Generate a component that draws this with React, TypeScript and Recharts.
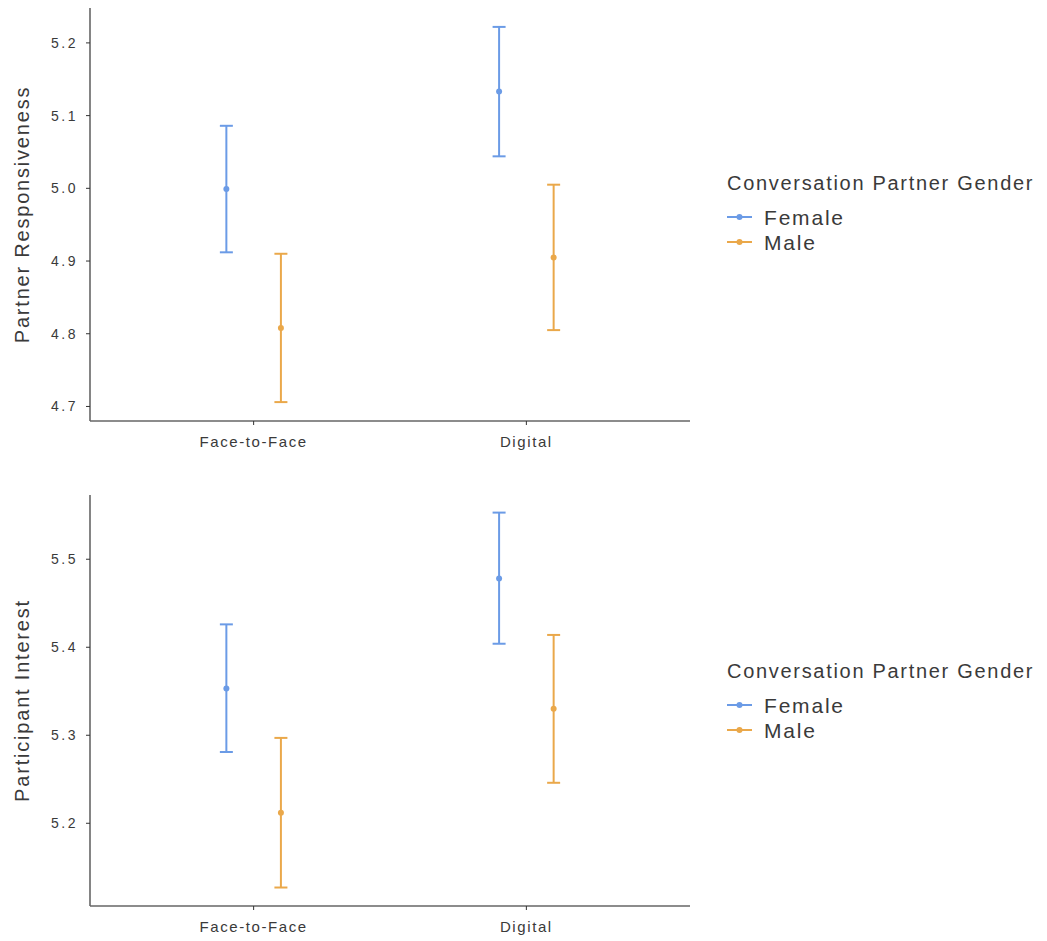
import { ErrorBar, Label, Scatter, ScatterChart, XAxis, YAxis } from 'recharts';

const categories = ['Face-to-Face', 'Digital'];
const genders = ['Female', 'Male'];

// Partner responsiveness: estimated means with lower / upper interval bounds
const respFemaleMean = [4.999, 5.133];
const respFemaleLow = [4.912, 5.044];
const respFemaleHigh = [5.086, 5.222];
const respMaleMean = [4.808, 4.905];
const respMaleLow = [4.706, 4.805];
const respMaleHigh = [4.91, 5.005];
const respTicks = [4.7, 4.8, 4.9, 5.0, 5.1, 5.2];

// Participant interest
const intFemaleMean = [5.353, 5.478];
const intFemaleLow = [5.281, 5.404];
const intFemaleHigh = [5.426, 5.553];
const intMaleMean = [5.212, 5.33];
const intMaleLow = [5.127, 5.246];
const intMaleHigh = [5.297, 5.414];
const intTicks = [5.2, 5.3, 5.4, 5.5];

const FEMALE = '#6b9be6';
const MALE = '#eaa84a';
const FONT = '"Liberation Sans", Arial, sans-serif';
const DODGE = 0.1;

function toPoints(mean: number[], low: number[], high: number[], shift: number) {
  return mean.map((m, i) => ({
    x: i + 1 + shift,
    y: m,
    err: [m - low[i], high[i] - m],
  }));
}

function Dot(color: string) {
  return (p: { cx?: number; cy?: number }) => <circle cx={p.cx} cy={p.cy} r={3} fill={color} />;
}

type PanelProps = {
  title: string;
  female: { x: number; y: number; err: number[] }[];
  male: { x: number; y: number; err: number[] }[];
  ticks: number[];
  domain: [number, number];
  height: number;
  top: number;
};

function Panel({ title, female, male, ticks, domain, height, top }: PanelProps) {
  return (
    <ScatterChart width={700} height={height} margin={{ top, right: 10, bottom: 0, left: 0 }}>
      <XAxis
        type="number"
        dataKey="x"
        domain={[0.4, 2.6]}
        ticks={[1, 2]}
        tickFormatter={(v) => categories[v - 1] ?? ''}
        height={49}
        axisLine={{ stroke: '#666', strokeWidth: 1.6 }}
        tickLine={{ stroke: '#333' }}
        tickSize={4}
        tickMargin={11}
        tick={{ fill: '#3a3a3a', fontSize: 15, fontFamily: FONT, letterSpacing: 1.6 }}
      />
      <YAxis
        type="number"
        dataKey="y"
        domain={domain}
        ticks={ticks}
        tickFormatter={(v) => v.toFixed(1)}
        width={90}
        axisLine={{ stroke: '#666', strokeWidth: 1.6 }}
        tickLine={{ stroke: '#333' }}
        tickSize={4}
        tickMargin={8}
        tick={{ fill: '#3a3a3a', fontSize: 14, fontFamily: FONT, letterSpacing: 2.5 }}
      >
        <Label
          content={({ viewBox }) => {
            const vb = viewBox as { y: number; height: number };
            const cy = vb.y + vb.height / 2;
            return (
              <text
                x={29}
                y={cy}
                transform={`rotate(-90 29 ${cy})`}
                textAnchor="middle"
                fill="#3a3a3a"
                fontSize={20}
                fontFamily={FONT}
                letterSpacing={1.8}
              >
                {title}
              </text>
            );
          }}
        />
      </YAxis>
      <Scatter name={genders[0]} data={female} fill={FEMALE} shape={Dot(FEMALE)} isAnimationActive={false}>
        <ErrorBar dataKey="err" direction="y" width={6.5} stroke={FEMALE} strokeWidth={2} isAnimationActive={false} />
      </Scatter>
      <Scatter name={genders[1]} data={male} fill={MALE} shape={Dot(MALE)} isAnimationActive={false}>
        <ErrorBar dataKey="err" direction="y" width={6.5} stroke={MALE} strokeWidth={2} isAnimationActive={false} />
      </Scatter>
    </ScatterChart>
  );
}

function GenderLegend({ top }: { top: number }) {
  const colors = [FEMALE, MALE];
  return (
    <svg width={327} height={100} style={{ position: 'absolute', left: 720, top }}>
      <text x={7} y={30} fontSize={20} fontFamily={FONT} fill="#3a3a3a" letterSpacing={1.7}>
        Conversation Partner Gender
      </text>
      {genders.map((g, i) => (
        <g key={g}>
          <line x1={7} x2={32} y1={57 + i * 25} y2={57 + i * 25} stroke={colors[i]} strokeWidth={2} />
          <circle cx={19.5} cy={57 + i * 25} r={3} fill={colors[i]} />
          <text x={44} y={65 + i * 25} fontSize={21} fontFamily={FONT} fill="#3a3a3a" letterSpacing={1.8}>
            {g}
          </text>
        </g>
      ))}
    </svg>
  );
}

export default function App() {
  return (
    <div style={{ position: 'absolute', left: 0, top: 0, width: 1047, height: 941, background: '#fff' }}>
      <div style={{ position: 'absolute', left: 0, top: 0 }}>
        <Panel
          title="Partner Responsiveness"
          female={toPoints(respFemaleMean, respFemaleLow, respFemaleHigh, -DODGE)}
          male={toPoints(respMaleMean, respMaleLow, respMaleHigh, DODGE)}
          ticks={respTicks}
          domain={[4.68, 5.248]}
          height={470}
          top={8}
        />
      </div>
      <div style={{ position: 'absolute', left: 0, top: 480 }}>
        <Panel
          title="Participant Interest"
          female={toPoints(intFemaleMean, intFemaleLow, intFemaleHigh, -DODGE)}
          male={toPoints(intMaleMean, intMaleLow, intMaleHigh, DODGE)}
          ticks={intTicks}
          domain={[5.106, 5.573]}
          height={475}
          top={15}
        />
      </div>
      <GenderLegend top={160} />
      <GenderLegend top={648} />
    </div>
  );
}
